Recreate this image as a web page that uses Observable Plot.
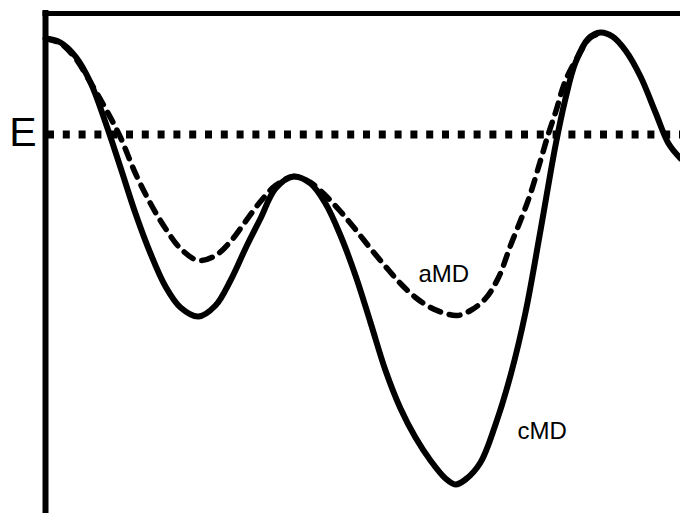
<!DOCTYPE html>
<html>
<head>
<meta charset="utf-8">
<script src="https://cdn.jsdelivr.net/npm/d3@7"></script>
<script src="https://cdn.jsdelivr.net/npm/@observablehq/plot@0.6"></script>
<style>
  html, body { margin: 0; padding: 0; background: #fff; }
  #chart svg { display: block; overflow: visible; }
</style>
</head>
<body>
<div id="chart"></div>
<script>
// Reaction coordinate (arbitrary units) and energy (arbitrary units)
const cmdX = [0, 15, 30, 45, 60, 75, 90, 105, 120, 135, 153, 170, 185, 200, 215, 230, 248, 265, 280, 295, 310, 325, 340, 355, 370, 385, 400, 410, 420, 435, 450, 465, 480, 495, 510, 520, 530, 543, 555, 567, 580, 595, 610, 623, 635];
const cmdE = [475, 471, 457, 431, 391, 346, 300, 260, 227, 206, 197, 208, 233, 265, 295, 325, 337, 330, 310, 278, 238, 191, 143, 105, 76, 53, 35, 29, 34, 51, 89, 138, 201, 283, 368, 415, 451, 475, 481, 477, 463, 437, 401, 370, 355];

const amdX = [0, 15, 30, 45, 60, 75, 90, 105, 120, 135, 153, 170, 185, 200, 215, 230, 248, 265, 280, 295, 310, 325, 340, 355, 370, 385, 400, 412, 425, 440, 453, 465, 477, 485, 495, 503, 510, 520, 533, 545, 558];
const amdE = [475, 470, 455, 431, 405, 376, 340, 310, 285, 265, 253, 258, 272, 292, 312, 328, 337, 331, 318, 302, 284, 265, 247, 230, 216, 206, 200, 198, 203, 215, 236, 268, 298, 320, 353, 380, 401, 433, 458, 476, 481];

const energyLevel = 379;     // dotted line "E"
const topEnergy = 500;       // top frame line
const labels = [
  {x: 373, y: 232, text: "aMD"},
  {x: 472, y: 75, text: "cMD"}
];
const eLabel = [{x: -9, y: 368, text: "E"}];

const cmd = cmdX.map((x, i) => ({x, y: cmdE[i]}));
const amd = amdX.map((x, i) => ({x, y: amdE[i]}));

const chart = Plot.plot({
  width: 680,
  height: 513,
  marginLeft: 45,
  marginRight: 0,
  marginTop: 13,
  marginBottom: 0,
  style: {background: "#fff", fontFamily: "'Liberation Sans', Arial, Helvetica, sans-serif"},
  x: {domain: [0, 635], axis: null},
  y: {domain: [0, 500], axis: null},
  marks: [
    Plot.ruleY([energyLevel], {stroke: "#000", strokeWidth: 8, strokeDasharray: "7,8.8", strokeDashoffset: -2}),
    Plot.line(amd, {x: "x", y: "y", curve: "catmull-rom", stroke: "#000", strokeWidth: 5.5, strokeDasharray: "11,9"}),
    Plot.line(cmd, {x: "x", y: "y", curve: "catmull-rom", stroke: "#000", strokeWidth: 6}),
    Plot.ruleX([0], {stroke: "#000", strokeWidth: 6, strokeLinecap: "square"}),
    Plot.ruleY([topEnergy], {stroke: "#000", strokeWidth: 5, strokeLinecap: "square"}),
    Plot.text(labels, {x: "x", y: "y", text: "text", textAnchor: "start", lineAnchor: "bottom", fontSize: 24, fill: "#000"}),
    Plot.text(eLabel, {x: "x", y: "y", text: "text", textAnchor: "end", lineAnchor: "bottom", fontSize: 41, fill: "#000"})
  ]
});
document.getElementById("chart").appendChild(chart);
</script>
</body>
</html>
